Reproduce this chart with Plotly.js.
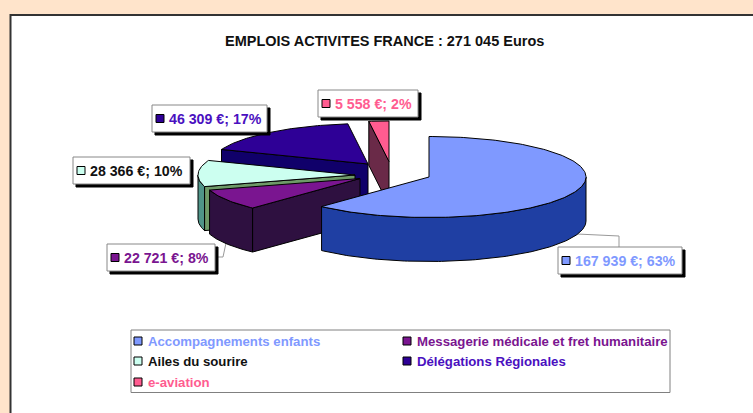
<!DOCTYPE html>
<html><head><meta charset="utf-8">
<script src="https://cdn.plot.ly/plotly-3.0.1.min.js"></script>
<style>html,body{margin:0;padding:0;background:#FFE4CB}#c{width:753px;height:413px}</style>
</head><body><div id="c"></div>
<script>
const categories = ["Accompagnements enfants","Messagerie médicale et fret humanitaire","Ailes du sourire","Délégations Régionales","e-aviation"];
const values = [167939,22721,28366,46309,5558];
const sliceLabels = ["167 939 €; 63%","22 721 €; 8%","28 366 €; 10%","46 309 €; 17%","5 558 €; 2%"];
const chartTitle = "EMPLOIS ACTIVITES FRANCE : 271 045 Euros";

const topColors  = ["#7F99FF","#7A1590","#CCFFF0","#2E0096","#FF5C90"];
const wallColors = ["#1F3FA3","#2E1040","#4F9488","#10006A","#6A2A48"];
const faceColors = ["#1F3FA3","#2E1040","#6E9A68","#10006A","#6A2A48"];
const textColors = ["#7F99FF","#7A1590","#111111","#4A10C0","#FF5C90"];
const centers = [[429,177],[360,178.5],[355,175],[368,164],[389,161.5]];
const RX=157, RY=40.5, DEPTH=44;
const drawOrder=[4,3,2,1,0];
const startFaceVisible=[false,true,true,true,true];

const total = values.reduce((a,b)=>a+b,0);
let acc=0; const starts=[],ends=[];
values.forEach(v=>{starts.push(acc/total*2*Math.PI);acc+=v;ends.push(acc/total*2*Math.PI);});
const pt=(c,a,dy=0)=>[c[0]+RX*Math.sin(a),c[1]-RY*Math.cos(a)+dy];
function arc(c,a0,a1,dy=0){const n=Math.max(2,Math.ceil(Math.abs(a1-a0)/0.02));const r=[];
  for(let i=0;i<=n;i++)r.push(pt(c,a0+(a1-a0)*i/n,dy));return r;}
const traces=[];
function poly(points,fill,line='#000',w=1){const p=points.concat([points[0]]);
  traces.push({type:'scatter',mode:'lines',x:p.map(q=>q[0]),y:p.map(q=>q[1]),fill:'toself',fillcolor:fill,
    line:{color:line,width:w,shape:'linear'},hoverinfo:'skip',showlegend:false});}
drawOrder.forEach(i=>{
  const c=centers[i],a0=starts[i],a1=ends[i];
  if(startFaceVisible[i]) poly([c,pt(c,a0),pt(c,a0,DEPTH),[c[0],c[1]+DEPTH]],faceColors[i]);
  const wa=Math.max(a0,Math.PI/2), wb=Math.min(a1,3*Math.PI/2);
  if(wb>wa){poly(arc(c,wa,wb).concat(arc(c,wb,wa,DEPTH)),wallColors[i]);}
  poly([c].concat(arc(c,a0,a1)),topColors[i]);
});

const shapes=[], annotations=[];
shapes.push({type:'rect',xref:'x',yref:'y',x0:10.5,y0:15,x1:770,y1:430,fillcolor:'#FFFFFF',line:{color:'#333333',width:2},layer:'below'});
function rect(x0,y0,x1,y1,fill,line,w){shapes.push({type:'rect',xref:'x',yref:'y',x0,y0,x1,y1,fillcolor:fill,line:{color:line,width:w},layer:'above'});}
function seg(pts,color){shapes.push({type:'path',xref:'x',yref:'y',path:'M'+pts.map(p=>p.join(',')).join('L'),line:{color,width:1},layer:'below'});}
function text(x,y,t,color,size){annotations.push({xref:'x',yref:'y',x,y,text:t,showarrow:false,xanchor:'left',yanchor:'middle',
  font:{family:'Liberation Sans, Arial, sans-serif',size,color,weight:'bold'}});}
seg([[577,234],[619,236],[619,247]],'#999999');
seg([[226,243],[223,257],[215,257]],'#999999');
const boxes=[[558,247,682,274],[107,244,215,271],[73,157,190,184],[152,105,267,132],[318,90,418,117]];
boxes.forEach((b,i)=>{
  rect(b[0]+3,b[1]+3,b[2]+3,b[3]+3,'#000000','#000000',1);
  rect(b[0],b[1],b[2],b[3],'#FFFFFF','#888888',1);
  rect(b[0]+4,(b[1]+b[3])/2-4,b[0]+12,(b[1]+b[3])/2+4,topColors[i],'#000000',1);
  text(b[0]+15,(b[1]+b[3])/2,sliceLabels[i],textColors[i],14.2);
});
rect(131,330,670,392.5,'#FFFFFF','#808080',1);
const legendX=[134,403,134,403,134], legendY=[341,341,361,361,382];
categories.forEach((n,i)=>{
  rect(legendX[i],legendY[i]-4,legendX[i]+8,legendY[i]+4,topColors[i],'#000000',1);
  text(legendX[i]+12,legendY[i],n,textColors[i],13.2);
});
annotations.push({xref:'x',yref:'y',x:384,y:41,text:chartTitle,showarrow:false,xanchor:'center',yanchor:'middle',
  font:{family:'Liberation Sans, Arial, sans-serif',size:14.5,color:'#111111',weight:'bold'}});

Plotly.newPlot('c',traces,{width:753,height:413,margin:{l:0,r:0,t:0,b:0},paper_bgcolor:'#FFE4CB',plot_bgcolor:'rgba(0,0,0,0)',
  showlegend:false,shapes,annotations,
  xaxis:{range:[0,753],visible:false,fixedrange:true},
  yaxis:{range:[413,0],visible:false,fixedrange:true}},{displayModeBar:false,staticPlot:true});
</script></body></html>
